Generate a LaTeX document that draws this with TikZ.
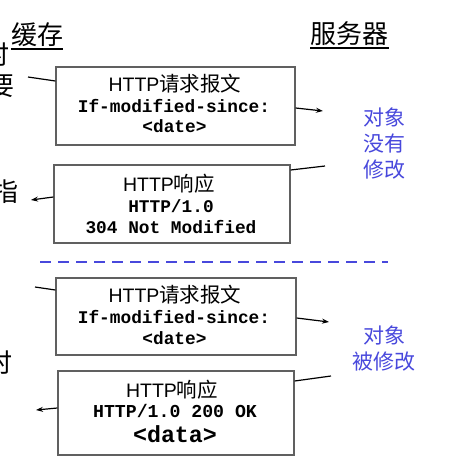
\documentclass[tikz,border=0pt]{standalone}
\usepackage{fontspec}
\setmainfont{Liberation Sans}
\setmonofont{Liberation Mono}
\newfontfamily\cjk{Noto Sans CJK SC}
\usetikzlibrary{arrows.meta}
\definecolor{boxgray}{RGB}{96,96,96}
\definecolor{noteblue}{RGB}{72,72,220}
\newcommand{\zh}[1]{{\cjk\fontsize{20.5}{24}\selectfont #1}}

\begin{document}
\begin{tikzpicture}[x=1pt,y=-1pt,
  msg/.style={draw=boxgray,line width=1.3pt,fill=white,inner sep=0pt},
  ttl/.style={font=\fontsize{19.5}{23}\selectfont,inner sep=0pt,anchor=base},
  code/.style={font=\ttfamily\bfseries\fontsize{#1}{#1}\selectfont,inner sep=0pt,anchor=base},
  code/.default=17.8,
  hdr/.style={font=\cjk\fontsize{26}{30}\selectfont,inner sep=0pt,anchor=base},
  side/.style={font=\cjk\fontsize{26}{30}\selectfont,inner sep=0pt,anchor=east},
  note/.style={font=\cjk\fontsize{21}{26}\selectfont,text=noteblue,align=center,inner sep=0pt},
  uline/.style={line width=1.5pt},
  link/.style={line width=1.2pt},
  arr/.style={link,-{Stealth[length=7pt,width=5pt]}}]
  \clip (0,0) rectangle (449,465);
  \useasboundingbox (0,0) rectangle (449,465);

  % column headers
  \node[hdr] (cache) at (37,45) {缓存};
  \node[hdr] (server) at (349.5,44) {服务器};
  \draw[uline] ([yshift=-4pt]cache.base west) -- ([yshift=-4pt]cache.base east);
  \draw[uline] ([yshift=-4pt]server.base west) -- ([yshift=-4pt]server.base east);

  % cut-off text on the left
  \node[side] (l1) at (10,55) {时};
  \node[side] (l2) at (15,86) {要};
  \node[side] (l3) at (19,192) {指};
  \node[side] (l4) at (13,363) {时};

  % not modified
  \node[msg,minimum width=239,minimum height=78] (req1) at (175.5,106) {};
  \node[ttl] (req1h) at (175,92) {HTTP\zh{请求报文}};
  \node[code] (req1a) at (174,113) {If-modified-since:};
  \node[code] (req1b) at (174.5,133) {<date>};

  \node[msg,minimum width=236,minimum height=78] (resp1) at (172,204) {};
  \node[ttl] (resp1h) at (169,191) {HTTP\zh{响应}};
  \node[code] (resp1a) at (171,212) {HTTP/1.0};
  \node[code] (resp1b) at (171,233) {304 Not Modified};

  \node[note] (note1) at (384,144) {对象\\没有\\修改};

  \coordinate (a1) at (28,77);
  \coordinate (a2) at (323,111);
  \coordinate (a3) at (325,166);
  \coordinate (a4) at (31,200);
  \draw[link] (a1) -- ([yshift=25pt]req1.west);
  \draw[arr] ([yshift=-2pt]req1.east) -- (a2);
  \draw[link] ([yshift=34pt]resp1.east) -- (a3);
  \draw[arr] ([yshift=7pt]resp1.west) -- (a4);

  % separator
  \coordinate (s1) at (40,262);
  \coordinate (s2) at (388,262);
  \draw[noteblue,line width=2.5pt,dash pattern=on 11pt off 7pt] (s1) -- (s2);

  % modified
  \node[msg,minimum width=240,minimum height=77] (req2) at (176,316.5) {};
  \node[ttl] (req2h) at (175,302) {HTTP\zh{请求报文}};
  \node[code] (req2a) at (174,323) {If-modified-since:};
  \node[code] (req2b) at (174.5,344) {<date>};

  \node[msg,minimum width=236,minimum height=84] (resp2) at (176,413) {};
  \node[ttl] (resp2h) at (172,397) {HTTP\zh{响应}};
  \node[code=18.2] (resp2a) at (175,417) {HTTP/1.0 200 OK};
  \node[code=23.3] (resp2b) at (175,442) {<data>};

  \node[note] (note2) at (384,349) {对象\\被修改};

  \coordinate (b1) at (35,287);
  \coordinate (b2) at (329,322);
  \coordinate (b3) at (331,376);
  \coordinate (b4) at (36,410);
  \draw[link] (b1) -- ([yshift=26.5pt]req2.west);
  \draw[arr] ([yshift=-1.5pt]req2.east) -- (b2);
  \draw[link] ([yshift=32pt]resp2.east) -- (b3);
  \draw[arr] ([yshift=5pt]resp2.west) -- (b4);
\end{tikzpicture}
\end{document}
